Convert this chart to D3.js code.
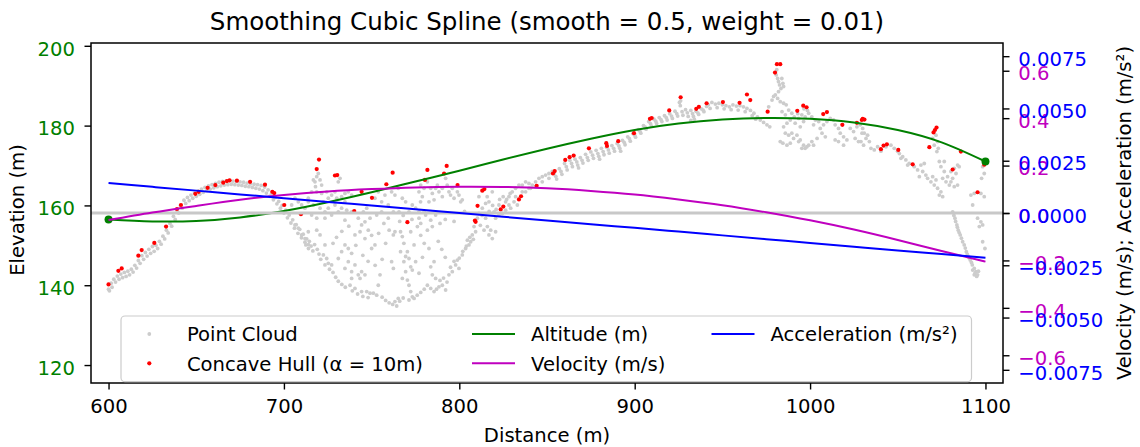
<!DOCTYPE html>
<html><head><meta charset="utf-8">
<script src="https://cdn.jsdelivr.net/npm/d3@7"></script>
<style>body{margin:0;background:#fff}svg{display:block}text{font-family:"DejaVu Sans",sans-serif}</style>
</head><body><svg id="c" width="1140" height="447"></svg>
<script>
// ---------- data ----------
const xTicks = [600, 700, 800, 900, 1000, 1100];
const elevTicks = [120, 140, 160, 180, 200];
const velTicks = [-0.6, -0.4, -0.2, 0, 0.2, 0.4, 0.6];
const accTicks = [-0.0075, -0.005, -0.0025, 0, 0.0025, 0.005, 0.0075];

const splineX = [600,625,650,675,700,725,750,775,800,825,850,875,900,925,950,975,1000,1025,1050,1075,1100];
const altitude = [156.5,156.0,156.1,157.0,158.6,160.8,163.3,166.0,168.7,171.5,174.2,176.7,178.9,180.5,181.5,181.9,181.7,180.8,178.9,175.8,171.0];
const velocity = [-0.030,0.002,0.030,0.056,0.076,0.091,0.101,0.108,0.111,0.110,0.104,0.093,0.078,0.057,0.033,0.003,-0.031,-0.070,-0.114,-0.160,-0.205];
const acceleration = [0.00143,0.00125,0.00107,0.00089,0.00071,0.00053,0.00036,0.00018,0.00000,-0.00018,-0.00036,-0.00054,-0.00071,-0.00089,-0.00107,-0.00125,-0.00143,-0.00161,-0.00179,-0.00196,-0.00214];
const altitudeEnds = [[600,156.5],[1100,171.0]];

const hull = [[600,140.2],[605.6,143.6],[607.5,144.2],[617,147.4],[618.9,148.8],[626.1,150.6],[632.8,154.7],[639,159.1],[641.3,160.1],[649.5,162.9],[651.4,163.4],[656.5,164.4],[660.9,165.1],[665.4,165.7],[667.5,166.1],[669,166.3],[673.2,166.2],
[680.7,165.9],[689.2,165.2],[693.4,163.4],[694.5,163.1],[700.2,160.1],[709.7,157.8],[718.7,169.1],[720,171.5],[729.1,167.5],[730.4,167.6],[740.1,158.6],[744.3,163.4],[750.2,161.9],[758.4,165.3],[762,168.2],
[770.4,155.8],[780.4,166.4],[781.8,168.9],[791.3,168],[792.8,169.9],[799,165.1],[808.9,156.2],[809.3,155.9],[810.4,159.9],[813.1,163.7],[814.3,164.1],[823.6,159],[825.1,159.7],[834,161.5],[835.2,162.3],[844.1,164.9],[853.4,168],
[854.4,168.6],[860.4,171.4],[862.9,172.1],[865.2,172.5],[873.9,174.3],[883.8,175.6],[884.2,174.9],[890.6,176.1],[899.6,178.1],[908.7,181.7],[909.7,181.9],[919.7,183.8],[926.2,187.1],[935.1,184.2],[936.6,184.7],[941,185.6],
[950.3,185.9],[959.8,185.7],[964,187.8],[965.9,186.4],[975.8,183.5],[980,193.3],[981.1,195.4],[983,195.4],[992.7,183.7],[996.1,185],[998,184.6],[1007.5,182.9],[1009.6,183.4],[1018.4,180.2],[1026.7,180.7],[1029.5,181.4],
[1030,181.7],[1031,181.5],[1040.4,174.1],[1041.9,175],[1043.8,175.3],[1050.3,173.9],[1058.5,170.3],[1068,174.6],[1070.4,178.3],[1071.2,178.9],[1072.1,179.5],[1081.3,169],[1086,173.5],[1095.5,163.3],[1099.3,170.2]];

const cloud = [
// rising band 600-714 (upper row)
[600,139.0],[601.5,140.5],[603,141.5],[605,142.3],[607,142.8],[609,143.2],[611,143.5],[613,144.0],[615,145.0],[617,146.2],[619,147.4],[621,148.2],[623,149.0],[625,149.7],[627,150.0],[629,151.0],[631,152.3],[633,153.8],[635,155.5],[637,157.3],[639,158.8],[641,160.0],[643,161.3],[645,162.0],[647,162.6],[649,163.1],[651,163.6],[653,164.1],[655,164.5],[657,164.9],[659,165.2],[661,165.5],[663,165.8],[665,166.0],[667,166.1],[669,166.2],[671,166.1],[673,166.0],[675,165.9],[677,165.8],[679,165.6],[681,165.4],[683,165.3],[685,165.2],[687,165.0],[689,164.6],[691,163.9],[693,163.0],[695,162.0],[697,161.0],[699,160.0],[701,158.8],[703,157.6],[705,156.4],[707,155.2],[709,154.0],[711,152.8],[713,151.6],
// rising band (lower row)
[600.5,138.6],[602,139.5],[604,140.8],[606,141.5],[608,141.9],[610,142.2],[612,142.6],[614,143.3],[616,144.3],[618,145.5],[620,146.5],[622,147.3],[624,148.0],[626,148.5],[628,149.2],[630,150.3],[632,151.6],[634,153.1],[636,154.8],[638,156.5],[640,158.1],[642,159.3],[644,160.5],[646,161.2],[648,161.8],[650,162.3],[652,162.8],[654,163.3],[656,163.7],[658,164.1],[660,164.4],[662,164.7],[664,164.9],[666,165.1],[668,165.2],[670,165.3],[672,165.2],[674,165.1],[676,165.0],[678,164.8],[680,164.7],[682,164.5],[684,164.3],[686,164.1],[688,163.7],[690,163.1],[692,162.3],[694,161.4],[696,160.4],[698,159.3],[700,158.1],[702,156.9],[704,155.6],[706,154.3],[708,153.0],[710,151.9],[712,150.8],[714,150.2],
// scattered upper cloud 704-766
[716.8,166.4],[717.7,165.9],[718.7,167.2],[719.6,168.0],[720.6,166.4],[718,164.7],[721.5,165.1],[715.8,163.4],[718.7,163.4],[713.9,161.8],[721.5,163.0],[722.5,160.9],[724.4,163.4],[725.3,161.8],[727.2,162.6],[729.1,163.4],[731,165.9],[732,166.8],[730.1,161.8],[732.9,162.2],[734.8,163.0],[736.7,163.4],[738.6,162.6],[734.8,160.9],[732.9,159.3],[729.1,160.1],[725.3,159.3],[723.4,158.4],[720.6,159.3],[716.8,160.1],[713.9,160.9],[712,159.3],[710.1,160.1],[708.2,160.9],[706.3,161.8],[704.4,160.1],[715.8,157.6],[718.7,156.8],[723.4,156.8],[727.2,157.6],[731,158.4],[735.8,158.8],[738.6,158.4],[742.4,156.8],[745.3,158.4],[747.2,159.3],[749.1,156.8],[751.9,161.8],[753.8,163.4],[755.7,160.9],[757.6,162.6],[759.5,160.1],[761.4,163.4],[763.3,162.6],[765.2,164.3],[759.5,156.8],[762.4,158.4],[755.7,158.4],[752.9,157.6],[744.3,155.1],[746.2,155.9],[748.1,153.8],[743.4,153.4],[740.5,152.6],[734.8,156.3],
// lower basin 706-766
[706.3,155.1],[708.2,154.3],[710.1,152.6],[712,151.7],[713.9,153.4],[712.5,150.1],[714,149.2],[718.7,153.8],[720.6,152.6],[723.4,150.1],[722.5,147.6],[724.4,146.7],[725.3,145.5],[723.4,145.1],[727.2,145.1],[731,146.7],[732.9,148.4],[734.8,150.1],[736.7,149.2],[738.6,148.0],[736.7,145.9],[734.8,144.2],[738.6,143.4],[740.5,145.1],[742.4,142.6],[738.6,141.7],[737.7,140.0],[740.5,139.2],[743.4,141.7],[744.3,143.4],[746.2,142.6],[744.3,138.4],[747.2,138.4],[749.1,138.0],[751,138.0],[752.9,137.5],[754.8,142.6],[753.8,140.0],[750,149.2],[751.9,150.1],[746.2,151.7],[761.4,145.9],[762.4,144.2],[763.3,153.4],[762.4,152.6],[763.3,135.9],[764.3,134.8],[765.2,136.7],
[714.5,151.0],[715.5,149.8],[716.5,148.6],[717.5,150.2],[719,149.0],[720,147.8],[721,146.5],[726,144.0],[728,143.2],[729.5,142.0],[731,141.0],[733,140.2],[735,139.5],[739,138.6],[742,137.8],[745,137.2],[748,136.9],[756,137.0],[758,136.2],[760,135.6],[762,135.2],[728,150.5],[730,152.0],[733,153.5],[737,154.8],[741,150.0],[745,147.5],[748,146.0],[752,145.0],[756,146.5],[758,150.5],[760,153.8],[757,155.5],[754,153.0],[750,152.5],
// basin 766-853
[766.5,153.4],[767.5,152.2],[768.4,150.5],[766.5,148.4],[769.4,147.2],[770.4,148.4],[768.4,145.9],[771.3,146.7],[772.3,144.6],[769.4,143.4],[773.2,143.8],[767.5,141.7],[770.4,141.3],[771.3,140],[772.3,138.4],[773.2,137.1],[771.3,136.3],[774.2,136.7],[775.1,145.9],[774.2,150.1],[772.3,153.4],[776.1,154.7],[777,156.8],[778,155.5],[780.8,157.6],[783.7,156.3],[784.6,154.7],[781.8,153.8],[786.5,157.6],[782.7,149.2],[785.6,145.9],[783.7,144.6],[784.6,142.6],[786.5,141.7],[781.8,140],[783.7,139.2],[785.6,138.4],[788.4,139.6],[790.3,140],[792.2,138.8],[794.1,142.6],[796,143.4],[797.9,145.1],[799.8,144.2],[798.9,146.3],[801.7,147.6],[803.6,149.2],[805.5,150.1],[804.6,151.3],[806.5,150.9],[807.4,152.6],[809.3,153.4],[808.4,154.7],[810.3,156.8],[811.2,158.0],[813.1,159.3],[815,160.5],[815,156.8],[816,154.7],[814.1,153.8],[816.9,152.6],[818.8,151.7],[817.9,153.8],[820.7,153.4],[820.7,156.8],[822.6,157.6],[819.8,158.4],[816.9,160.9],[815.9,162.2],[811.2,162.2],[818.8,163.4],[822.6,160.1],[826.4,160.9],[828.3,162.2],[830.2,163.4],[832.1,164.3],[834,165.1],[835.9,165.1],[837.8,165.9],[839.7,165.5],[841.6,165.1],[843.5,165.9],[845.4,166.8],[847.3,167.2],[849.2,167.6],[851.1,168.0],[853,168.5],[831.2,160.9],[829.3,159.3],[833.1,160.1],[837.8,163.4],[840.6,164.3],
[824.5,158],[826.4,158.8],[828.3,160.1],[832.1,162.2],[835.9,163.4],[839.7,164.3],[843.5,164.7],[847.3,165.9],[851.1,166.8],
[766,136.0],[768,136.8],[776,137.5],[778,138.2],[780,139.0],[787,139.0],[789,141.2],[791,141.8],[793,140.8],[795,144.5],[797,146.0],[800,146.8],[802,148.5],[804,149.8],[806,152.0],[808,151.5],[812,155.0],[813,157.5],[817,158.5],[819,160.0],[821,159.0],[823,161.5],[825,162.2],[827,161.5],[829,163.0],[766,156.0],[768,157.5],[773,156.5],[778,152.5],[780,150.5],[779,147.0],[777,143.0],[788,151.0],[790,149.0],[792,147.0],[789,155.5],[792,156.5],[797,156.0],[803,158.5],
// upper cluster 765-802
[777,163.4],[778,165.1],[778.9,162.2],[779.9,164.3],[781.8,165.9],[783.7,164.3],[784.6,163.0],[786.5,164.3],[787.5,165.1],[788.4,163.4],[790.3,164.3],[792.2,166.8],[793.1,165.1],[794.1,163.4],[795,162.6],[796,164.3],[797,161.8],[798.9,163.4],[800.8,160.9],[799.8,162.6],[801.7,161.4],[790.3,162.2],[785.6,161.4],[782.7,160.9],[777.9,160.9],[775.1,159.3],[773.2,160.1],[769.4,160.9],[767.5,161.8],[771.3,158.4],[765.6,158.4],[779.9,158.4],[777,158.4],
// band 854-942
[854,168.0],[857,169.2],[860,170.5],[863,171.3],[866,171.6],[869,172.0],[872,172.8],[875,173.4],[878,173.8],[881,174.3],[884,174.6],[887,175.0],[890,175.5],[893,176.3],[896,177.2],[899,178.0],[902,179.0],[905,180.0],[908,181.0],[911,181.6],[914,182.0],[917,182.5],[920,183.0],[923,183.6],[926,185.0],[929,184.0],[932,183.8],[935,183.6],[938,184.2],[941,184.8],
[855.5,166.6],[858.5,167.8],[861.5,168.9],[864.5,169.7],[867.5,170.1],[870.5,170.6],[873.5,171.3],[876.5,171.8],[879.5,172.3],[882.5,172.7],[885.5,173.1],[888.5,173.6],[891.5,174.3],[894.5,175.2],[897.5,176.1],[900.5,177.1],[903.5,178.1],[906.5,179.1],[909.5,179.9],[912.5,180.5],[915.5,181.0],[918.5,181.4],[921.5,181.8],[924.5,182.4],[927.5,182.6],[930.5,182.3],[933.5,182.3],[936.5,182.8],[939.5,183.5],
[855,167.3],[858,168.5],[861,169.7],[864,170.5],[867,170.9],[870,171.3],[873,172.0],[876,172.6],[879,173.0],[882,173.5],[885,173.9],[888,174.3],[891,174.9],[894,175.8],[897,176.7],[900,177.6],[903,178.6],[906,179.6],[909,180.5],[912,181.1],[915,181.5],[918,182.0],[921,182.4],[924,183.0],[927,183.5],[930,183.2],[933,183.0],[936,183.2],[939,183.9],
[926.2,186.2],[925.5,185.8],[934,181.6],[932,181.3],[868,169.4],[880,171.6],[892,173.6],
// 942-1030
[942,185.2],[944,185.8],[946,185.4],[948,185.6],[950,185.2],[952,185.0],[954,184.7],[956,185.2],[958,184.9],[960,185.0],[962,184.7],[964,184.3],[943,184.3],[947,184.5],[951,184.2],[955,184.0],[959,183.9],[963,183.5],[966,183.8],
[968,183.1],[970,182.2],[971.6,181.4],[973.5,180.8],[975.4,180.2],[977,179.7],[967,182.5],[969,181.6],
[976.4,184.7],[978.3,186.4],[979.2,187.3],[980.2,187.7],
[980.7,192.7],[981.5,191.8],[982,191.0],[982.6,190.2],[983.4,189.3],[984.5,190.6],[984.9,189.8],[983.9,191.8],[982,188.5],[981,194.0],
[981.5,186.8],[983,186.0],[984.9,185.6],[986.4,185.2],
[984,183.5],[985.9,182.7],[987.8,183.9],[989.6,183.1],[991,182.2],[988.7,181.4],[986.8,180.6],[984.9,179.7],[991.5,180.6],[993.5,181.8],[995.3,182.7],[997.2,182.2],[996.3,181.0],[994.4,179.7],
[983,176.0],[984.5,175.6],[986.8,175.1],[988.7,175.6],[990.6,176.8],[992.5,177.6],[989.6,178.1],[987.8,177.6],[985.9,178.1],[994.4,176.4],[996.3,175.1],[998.2,174.7],[997.2,174.3],[995.3,174.3],[993.5,176.0],
[999.2,183.1],[1001,182.2],[1003,181.4],[1004.9,181.0],[1002,180.2],[1005.8,179.3],[1007.7,180.2],[1009.6,181.0],[1011.5,181.8],[1013.4,181.4],[1006.8,178.1],[1008.7,177.2],[1004,176.8],[1001,176.0],[999.2,175.1],[1002,175.1],
[1014.3,180.2],[1016.2,179.3],[1017.2,178.1],[1019.1,177.2],[1021,176.4],[1019.1,175.1],[1016.2,176.0],[1022.9,179.3],[1024.8,178.5],[1026.7,179.7],[1028.6,180.2],[1025.7,176.8],[1027.6,176.0],[1029.6,178.1],[1014.3,176.4],
[993,183.0],[996.5,184.2],[998.5,183.8],
// 1029-1100
[1030,179.3],[1030.9,178.1],[1031.9,176.8],[1032.8,177.6],[1033.8,176.0],[1029,176.0],[1030.5,175.1],
[1034.7,174.3],[1036.6,173.9],[1038.5,174.7],[1040.4,173.6],[1043.3,174.7],[1046.1,175.1],[1048,174.3],[1049.9,173.6],
[1050.9,173.0],[1052.8,172.2],[1054.6,171.4],[1056.5,170.5],[1051.8,171.8],[1055.6,170.1],
[1059.4,169.7],[1061.3,168.9],[1063.2,170.1],[1065.1,170.5],[1064.2,168.5],[1066,167.6],[1062.3,167.2],
[1067,166.8],[1068.9,165.9],[1070.8,165.1],[1072.7,164.3],[1074.6,163.4],[1075.6,162.2],[1073.7,162.6],[1069.9,167.2],[1071.8,166.4],
[1069.9,176.8],[1071.8,177.6],[1072.7,176.0],[1070.8,175.1],[1073.1,174.3],[1072.3,173.5],
[1073.7,171.0],[1074.6,169.7],[1076.5,168.5],[1078.4,167.2],[1075.6,166.8],[1077.5,165.9],[1079.4,165.1],[1080.3,168.5],[1082.2,169.3],[1084.1,170.1],[1085,169.7],[1083.2,168.0],[1081.3,166.8],[1076.5,171.0],
[1080.3,165.9],[1082.2,164.7],[1084.1,165.1],
[1081.3,158.4],[1082.6,156.8],[1083.7,155.1],[1084.5,153.8],[1085.6,152.6],[1087,150.9],[1087.9,150.1],[1089.1,148.4],[1090.2,147.2],[1091.3,146.3],[1092.5,145.1],[1093.6,144.2],[1094.6,143.4],[1095.5,142.6],[1093.6,142.6],[1092.7,143.8],
[1082,157.5],[1083,156.0],[1084,154.5],[1085,153.2],[1086.3,151.8],[1088.5,149.3],[1089.6,147.8],[1090.8,146.8],[1092,145.7],[1094,143.0],[1095,142.2],[1096,143.5],
[1091.7,162.6],[1093.6,163.0],[1097.4,163.0],[1099.3,162.2],[1092.7,160.1],
[1095.5,156.8],[1097.4,155.9],[1096.5,154.7],[1098.4,155.1],
[1098.4,169.7],[1099.3,168.0],[1097.8,166.8],
[1098.4,150.9],[1099.7,149.2]
];

const legendItems = [
  {label: "Point Cloud", kind: "dot", color: "#cccccc", col: 0, row: 0},
  {label: "Concave Hull (α = 10m)", kind: "dot", color: "#ff0000", col: 0, row: 1},
  {label: "Altitude (m)", kind: "line", color: "#008000", col: 1, row: 0},
  {label: "Velocity (m/s)", kind: "line", color: "#bf00bf", col: 1, row: 1},
  {label: "Acceleration (m/s²)", kind: "line", color: "#0000ff", col: 2, row: 0}
];

// ---------- layout ----------
const L = 91, R = 1003, T = 43, B = 383;
const FS = 19.6;
const x = d3.scaleLinear().domain([590, 1110]).range([L, R]);
const yE = d3.scaleLinear().domain([115.5, 200.7]).range([B, T]);
const yV = d3.scaleLinear().domain([-0.717, 0.717]).range([B, T]);
const yA = d3.scaleLinear().domain([-0.00813, 0.00813]).range([B, T]);

const svg = d3.select('#c');
svg.append('rect').attr('width', 1140).attr('height', 447).attr('fill', '#fff');
svg.append('defs').append('clipPath').attr('id', 'clip')
  .append('rect').attr('x', L).attr('y', T).attr('width', R - L).attr('height', B - T);
const plot = svg.append('g').attr('clip-path', 'url(#clip)');

plot.append('g').selectAll('circle').data(cloud).join('circle')
  .attr('cx', d => x(d[0])).attr('cy', d => yE(d[1])).attr('r', 1.9).attr('fill', '#cccccc');
plot.append('g').selectAll('circle').data(hull).join('circle')
  .attr('cx', d => x(d[0])).attr('cy', d => yE(d[1])).attr('r', 2.1).attr('fill', '#ff0000');

const mkLine = (ys) => d3.line().x((d, i) => x(splineX[i])).y(d => ys(d)).curve(d3.curveNatural);
plot.append('path').datum(altitude).attr('d', mkLine(yE)).attr('fill', 'none').attr('stroke', '#008000').attr('stroke-width', 2);
plot.append('g').selectAll('circle').data(altitudeEnds).join('circle')
  .attr('cx', d => x(d[0])).attr('cy', d => yE(d[1])).attr('r', 4).attr('fill', '#008000');

plot.append('line').attr('x1', L).attr('x2', R).attr('y1', yA(0)).attr('y2', yA(0))
  .attr('stroke', '#c8c8c8').attr('stroke-width', 3);
plot.append('path').datum(velocity).attr('d', mkLine(yV)).attr('fill', 'none').attr('stroke', '#bf00bf').attr('stroke-width', 2);
plot.append('path').datum(acceleration).attr('d', mkLine(yA)).attr('fill', 'none').attr('stroke', '#0000ff').attr('stroke-width', 2);

// ---------- axes ----------
function styleAxis(g, color, dy) {
  g.select('.domain').remove();
  g.selectAll('.tick line').attr('stroke', '#000').attr('stroke-width', 1.4);
  g.selectAll('.tick text').attr('fill', color).attr('font-size', FS).attr('font-family', 'DejaVu Sans');
  if (dy) g.selectAll('.tick text').attr('dy', dy);
}
const gx = svg.append('g').attr('transform', `translate(0,${B})`)
  .call(d3.axisBottom(x).tickValues(xTicks).tickFormat(d3.format('d')).tickSize(6.5).tickPadding(10).tickSizeOuter(0));
styleAxis(gx, '#000');
const gl = svg.append('g').attr('transform', `translate(${L},0)`)
  .call(d3.axisLeft(yE).tickValues(elevTicks).tickFormat(d3.format('d')).tickSize(6.5).tickPadding(9.5).tickSizeOuter(0));
styleAxis(gl, '#008000', '0.47em');
const gv = svg.append('g').attr('transform', `translate(${R},0)`)
  .call(d3.axisRight(yV).tickValues(velTicks).tickFormat(d3.format('.1f')).tickSize(6.5).tickPadding(8.8).tickSizeOuter(0));
styleAxis(gv, '#bf00bf', '0.47em');
const ga = svg.append('g').attr('transform', `translate(${R},0)`)
  .call(d3.axisRight(yA).tickValues(accTicks).tickFormat(d3.format('.4f')).tickSize(6.5).tickPadding(8.8).tickSizeOuter(0));
styleAxis(ga, '#0000ff', '0.47em');

svg.append('rect').attr('x', L).attr('y', T).attr('width', R - L).attr('height', B - T)
  .attr('fill', 'none').attr('stroke', '#000').attr('stroke-width', 1.5);

// ---------- texts ----------
svg.append('text').attr('x', (L + R) / 2).attr('y', 30).attr('text-anchor', 'middle')
  .attr('font-size', 24.5).attr('fill', '#000').text('Smoothing Cubic Spline (smooth = 0.5, weight = 0.01)');
svg.append('text').attr('x', (L + R) / 2).attr('y', 441.5).attr('text-anchor', 'middle')
  .attr('font-size', FS).attr('fill', '#000').text('Distance (m)');
svg.append('text').attr('transform', 'translate(24,210) rotate(-90)').attr('text-anchor', 'middle')
  .attr('font-size', FS).attr('fill', '#000').text('Elevation (m)');
svg.append('text').attr('transform', 'translate(1131,213) rotate(-90)').attr('text-anchor', 'middle')
  .attr('font-size', FS).attr('fill', '#000').text('Velocity (m/s); Acceleration (m/s²)');

// ---------- legend ----------
const lg = svg.append('g');
lg.append('rect').attr('x', 121).attr('y', 316).attr('width', 850.5).attr('height', 65.7).attr('rx', 4)
  .attr('fill', '#fff').attr('fill-opacity', 0.8).attr('stroke', '#cccccc').attr('stroke-width', 1.2);
const colX = [149.3, 493.5, 733];
const textX = [186.9, 531, 770.5];
const rowY = [334, 363.3];
legendItems.forEach(it => {
  const cx = colX[it.col], cy = rowY[it.row];
  if (it.kind === 'dot') {
    lg.append('circle').attr('cx', cx).attr('cy', cy).attr('r', it.color === '#ff0000' ? 2.1 : 1.9).attr('fill', it.color);
  } else {
    lg.append('line').attr('x1', cx - 21.5).attr('x2', cx + 21.5).attr('y1', cy).attr('y2', cy)
      .attr('stroke', it.color).attr('stroke-width', 2);
  }
  lg.append('text').attr('x', textX[it.col]).attr('y', cy + 7.2).attr('font-size', FS).attr('fill', '#000').text(it.label);
});
</script></body></html>
